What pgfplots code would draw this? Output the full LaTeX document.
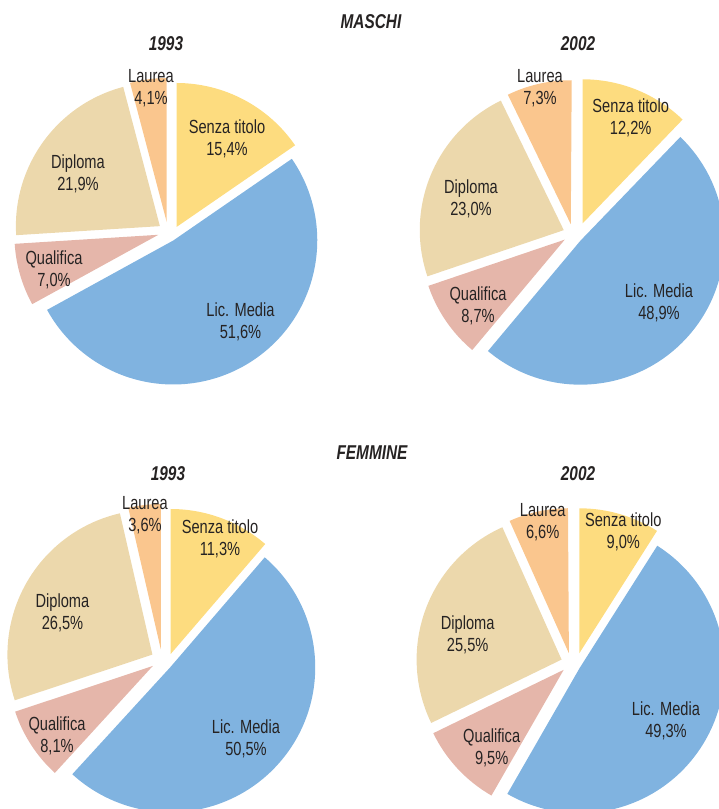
\documentclass[border=0pt]{standalone}
\usepackage{fontspec}
\setmainfont{Liberation Sans}[FakeStretch=0.77]
\usepackage{pgfplots}
\usepackage{pgfplotstable}
\pgfplotsset{compat=1.18}

\definecolor{c0}{RGB}{253,220,127}
\definecolor{c1}{RGB}{128,179,224}
\definecolor{c2}{RGB}{229,182,170}
\definecolor{c3}{RGB}{236,216,172}
\definecolor{c4}{RGB}{250,198,142}
\definecolor{txt}{RGB}{38,35,35}

% percentages: rows = Senza titolo, Lic. Media, Qualifica, Diploma, Laurea
\pgfplotstableread{
cat       m1993 m2002 f1993 f2002
Senza     15.4  12.2  11.3  9.0
LicMedia  51.6  48.9  50.5  49.3
Qualifica 7.0   8.7   8.1   9.5
Diploma   21.9  23.0  26.5  25.5
Laurea    4.1   7.3   3.6   6.6
}\datatable

% #1 column, #2 cx, #3 cy, #4 radius, #5 explode, #6/#7 offset of first slice
\newcommand\drawpie[7]{%
  \def\angleacc{90}%
  \pgfplotsforeachungrouped \rr in {0,1,2,3,4}{%
    \pgfplotstablegetelem{\rr}{#1}\of\datatable
    \pgfmathsetmacro\sspan{3.6*\pgfplotsretval}%
    \pgfmathsetmacro\aend{\angleacc-\sspan}%
    \pgfmathsetmacro\amid{\angleacc-\sspan/2}%
    \ifnum\rr=0
      \def\ox{#6}\def\oy{#7}%
    \else
      \pgfmathsetmacro\ox{#5*cos(\amid)}\pgfmathsetmacro\oy{#5*sin(\amid)}%
    \fi
    \pgfmathsetmacro\px{#2+\ox}\pgfmathsetmacro\py{#3+\oy}%
    \edef\tmp{\noexpand\fill[c\rr] (axis cs:\px,\py) -- ++(\angleacc:#4pt) arc[start angle=\angleacc, end angle=\aend, radius=#4pt] -- cycle;}%
    \tmp
    \let\angleacc\aend
  }%
}

\begin{document}
\begin{tikzpicture}
\begin{axis}[name=ax, at={(0,0)}, anchor=south west, x=1pt, y=1pt,
  xmin=0, xmax=719, ymin=0, ymax=809, hide axis, clip=true]
\drawpie{m1993}{168}{577}{144}{10}{8.5}{5}
\drawpie{m2002}{573}{575}{144}{10}{9.7}{10.7}
\drawpie{f1993}{162}{149}{145}{11}{8.7}{6}
\drawpie{f2002}{571}{146}{145}{10}{8.3}{9.7}

\tikzset{lab/.style={align=center, text=txt, font={\fontsize{19}{22}\selectfont}, inner sep=0pt},
         ttl/.style={text=txt, font={\fontsize{20}{22}\selectfont\bfseries\itshape}, inner sep=0pt}}
% titles
\node[ttl] at (axis cs:371,787) {MASCHI};
\node[ttl] at (axis cs:166,765) {1993};
\node[ttl] at (axis cs:578,765) {2002};
\node[ttl] at (axis cs:372,356) {FEMMINE};
\node[ttl] at (axis cs:168,335) {1993};
\node[ttl] at (axis cs:578,335) {2002};
% maschi 1993
\node[lab] at (axis cs:151,721) {Laurea\\4,1\%};
\node[lab] at (axis cs:227,670) {Senza titolo\\15,4\%};
\node[lab] at (axis cs:78,635.5) {Diploma\\21,9\%};
\node[lab] at (axis cs:54,539.5) {Qualifica\\7,0\%};
\node[lab] at (axis cs:240.5,487.5) {Lic. Media\\51,6\%};
% maschi 2002
\node[lab] at (axis cs:540,721) {Laurea\\7,3\%};
\node[lab] at (axis cs:630.7,691.5) {Senza titolo\\12,2\%};
\node[lab] at (axis cs:471,610) {Diploma\\23,0\%};
\node[lab] at (axis cs:478,503) {Qualifica\\8,7\%};
\node[lab] at (axis cs:659,506) {Lic. Media\\48,9\%};
% femmine 1993
\node[lab] at (axis cs:145,294) {Laurea\\3,6\%};
\node[lab] at (axis cs:220,270) {Senza titolo\\11,3\%};
\node[lab] at (axis cs:62.5,196.5) {Diploma\\26,5\%};
\node[lab] at (axis cs:57,73) {Qualifica\\8,1\%};
\node[lab] at (axis cs:246,70.5) {Lic. Media\\50,5\%};
% femmine 2002
\node[lab] at (axis cs:542.7,287) {Laurea\\6,6\%};
\node[lab] at (axis cs:623.3,277) {Senza titolo\\9,0\%};
\node[lab] at (axis cs:467.7,174) {Diploma\\25,5\%};
\node[lab] at (axis cs:491.7,61) {Qualifica\\9,5\%};
\node[lab] at (axis cs:666,88) {Lic. Media\\49,3\%};
\end{axis}
\pgfresetboundingbox
\path[use as bounding box] (ax.south west) rectangle (ax.north east);
\end{tikzpicture}
\end{document}
